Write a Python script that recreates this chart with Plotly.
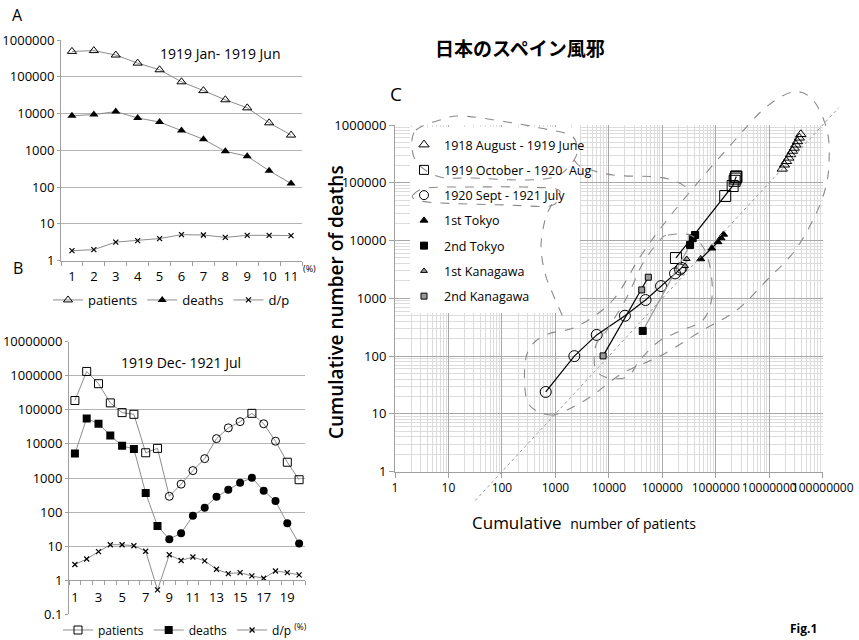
import plotly.graph_objects as go
import math

W, H = 859, 640

# ---------------- data ----------------
# Panel A (1919 Jan - 1919 Jun)
a_month = list(range(1, 12))
a_patients = [490000, 515000, 390000, 235000, 155000, 73000, 42000, 23700, 14300, 5600, 2600]
a_deaths = [8700, 9400, 11300, 7600, 5900, 3450, 2000, 940, 690, 280, 125]
a_dp = [1.87, 2.0, 3.2, 3.5, 4.0, 5.1, 5.0, 4.3, 4.9, 4.9, 4.8]

# Panel B (1919 Dec - 1921 Jul)
b_month = list(range(1, 21))
b_patients = [188000, 1340000, 585000, 160000, 83000, 74000, 5500, 7400, 290, 660,
              1650, 3700, 14300, 29600, 45000, 79000, 39000, 12000, 2900, 890]
b_deaths = [5200, 56000, 39000, 17700, 8800, 7100, 360, 39, 16, 24,
            78, 135, 280, 450, 720, 1020, 420, 210, 47, 12]
b_dp = [2.9, 4.2, 6.9, 11, 11, 10.3, 7.1, 0.52, 5.6, 3.8,
        4.8, 3.7, 2.1, 1.56, 1.67, 1.34, 1.14, 1.87, 1.67, 1.43]
b_pat_sym = ['square-open'] * 8 + ['circle-open'] * 7 + ['square-open'] + ['circle-open'] * 2 + ['square-open'] * 2
b_dea_sym = ['square'] * 8 + ['circle'] * 12

# Panel C (cumulative)
w1_pat = [17500000, 19300000, 21000000, 23200000, 25000000, 27300000, 29400000, 31500000, 33800000, 36500000, 39000000]
w1_dea = [174000, 205000, 236000, 270000, 310000, 355000, 400000, 455000, 520000, 600000, 690000]
w2_pat = [180000, 1500000, 2070000, 2250000, 2330000, 2400000, 2410000, 2420000]
w2_dea = [5000, 59000, 88000, 108000, 118000, 125000, 128000, 128000]
w3_pat = [660, 2260, 5930, 20000, 48600, 94600, 173000, 214000, 229000]
w3_dea = [24, 100, 233, 500, 935, 1630, 2700, 3150, 3370]
t1_pat = [523000, 840000, 1100000, 1250000, 1400000]
t1_dea = [4800, 7360, 9460, 11100, 12760]
t2_pat = [43000, 330000, 370000, 410000]
t2_dea = [273, 8400, 11000, 12500]
k1_pat = [266000, 286000]
k1_dea = [3630, 4800]
k2_pat = [7800, 41200, 54700]
k2_dea = [101, 1400, 2320]

a_yticks = [1, 10, 100, 1000, 10000, 100000, 1000000]
b_yticks = [0.1, 1, 10, 100, 1000, 10000, 100000, 1000000, 10000000]
c_xticks = [10 ** k for k in range(0, 9)]
c_yticks = [10 ** k for k in range(0, 7)]

# ---------------- layout helpers ----------------
FONT = "Open Sans, Noto Sans, sans-serif"
LINEGREY = '#8c8c8c'
GRID = '#b4b4b4'

def px2paper(px, py):
    return px / W, 1 - py / H

def dom_x(p0, p1):
    return [p0 / W, p1 / W]

def dom_y(top, bottom):
    return [1 - bottom / H, 1 - top / H]

def smooth_path(pts, closed=False):
    P = [px2paper(x, y) for x, y in pts]
    n = len(P)
    if closed:
        get = lambda i: P[i % n]
        segs = range(n)
    else:
        get = lambda i: P[min(max(i, 0), n - 1)]
        segs = range(n - 1)
    d = "M %.5f,%.5f" % get(0)
    for i in segs:
        p0, p1, p2, p3 = get(i - 1), get(i), get(i + 1), get(i + 2)
        c1 = (p1[0] + (p2[0] - p0[0]) / 6, p1[1] + (p2[1] - p0[1]) / 6)
        c2 = (p2[0] - (p3[0] - p1[0]) / 6, p2[1] - (p3[1] - p1[1]) / 6)
        d += " C %.5f,%.5f %.5f,%.5f %.5f,%.5f" % (c1 + c2 + p2)
    if closed:
        d += " Z"
    return d

fig = go.Figure()

# ---------------- Panel A ----------------
line_kw = dict(color=LINEGREY, width=1)
xmark = dict(symbol='x-thin', size=5, color='black', line=dict(width=1.2, color='black'))
fig.add_trace(go.Scatter(x=a_month, y=a_patients, mode='lines+markers', name='patients',
                         line=line_kw, marker=dict(symbol='triangle-up-open', size=8, color='black'),
                         xaxis='x', yaxis='y', legend='legend'))
fig.add_trace(go.Scatter(x=a_month, y=a_deaths, mode='lines+markers', name='deaths',
                         line=line_kw, marker=dict(symbol='triangle-up', size=8, color='black'),
                         xaxis='x', yaxis='y', legend='legend'))
fig.add_trace(go.Scatter(x=a_month, y=a_dp, mode='lines+markers', name='d/p',
                         line=line_kw, marker=xmark, xaxis='x', yaxis='y', legend='legend'))

# ---------------- Panel B ----------------
fig.add_trace(go.Scatter(x=b_month, y=b_patients, mode='lines+markers', name='patients',
                         line=line_kw, marker=dict(symbol=b_pat_sym, size=8, color='black'),
                         xaxis='x2', yaxis='y2', legend='legend2'))
fig.add_trace(go.Scatter(x=b_month, y=b_deaths, mode='lines+markers', name='deaths',
                         line=line_kw, marker=dict(symbol=b_dea_sym, size=8, color='black'),
                         xaxis='x2', yaxis='y2', legend='legend2'))
fig.add_trace(go.Scatter(x=b_month, y=b_dp, mode='lines+markers', name='d/p <sup>(%)</sup>',
                         line=line_kw, marker=xmark, xaxis='x2', yaxis='y2', legend='legend2'))

# ---------------- Panel C ----------------
c_series = [
    ('1918 August - 1919 June', w1_pat, w1_dea, 'triangle-up-open', 9, 'black', 'black', 'markers'),
    ('1919 October - 1920  Aug', w2_pat, w2_dea, 'square-open', 11, 'black', 'black', 'lines+markers'),
    ('1920 Sept - 1921 July', w3_pat, w3_dea, 'circle-open', 11, 'black', 'black', 'lines+markers'),
    ('1st Tokyo', t1_pat, t1_dea, 'triangle-up', 7, 'black', 'black', 'lines+markers'),
    ('2nd Tokyo', t2_pat, t2_dea, 'square', 7, 'black', '#999999', 'lines+markers'),
    ('1st Kanagawa', k1_pat, k1_dea, 'triangle-up', 6, '#9a9a9a', '#999999', 'lines+markers'),
    ('2nd Kanagawa', k2_pat, k2_dea, 'square', 6, '#9a9a9a', 'black', 'lines+markers'),
]
def c_marker(sym, sz, fillc):
    if sym.endswith('open'):
        return dict(symbol=sym, size=sz, color='black', line=dict(width=1))
    return dict(symbol=sym, size=sz, color=fillc, line=dict(color='black', width=1))

for name, xs, ys, sym, sz, fillc, lc, mode in c_series:
    fig.add_trace(go.Scatter(x=xs, y=ys, mode=mode, name=name, showlegend=False,
                             line=dict(color=lc, width=1.2), marker=c_marker(sym, sz, fillc),
                             xaxis='x3', yaxis='y3'))
# legend entries for panel C (markers only)
leg_sizes = [9, 9, 9, 7, 7, 6, 6]
for (name, xs, ys, sym, sz, fillc, lc, mode), ls in zip(c_series, leg_sizes):
    fig.add_trace(go.Scatter(x=[None], y=[None], mode='markers', name=name,
                             marker=c_marker(sym, ls, fillc),
                             xaxis='x3', yaxis='y3', legend='legend3', legendgroup=name))

# ---------------- axes ----------------
tickfont = dict(family=FONT, size=13, color='black')
fig.update_layout(
    width=W, height=H, margin=dict(l=0, r=0, t=0, b=0, autoexpand=False),
    paper_bgcolor='white', plot_bgcolor='rgba(0,0,0,0)',
    font=dict(family=FONT, color='black'),
    xaxis=dict(domain=dom_x(61, 302), range=[0.5, 11.5], anchor='y',
               tickvals=a_month, ticktext=[str(m) for m in a_month], ticks='',
               showgrid=False, zeroline=False, showline=True, linecolor='#a0a0a0',
               tickfont=dict(family=FONT, size=13), ticklabelstandoff=4,
               minor=dict(tickvals=[i + 0.5 for i in range(0, 12)], ticks='outside',
                          ticklen=4, tickcolor='#a0a0a0', showgrid=False)),
    yaxis=dict(domain=dom_y(40, 260.7), type='log', range=[0, 6], anchor='x',
               tickvals=a_yticks, ticktext=[str(v) for v in a_yticks],
               showgrid=True, gridcolor=GRID, zeroline=False, showline=True,
               linecolor='#a0a0a0', ticks='outside', ticklen=3, tickcolor='#a0a0a0',
               tickfont=tickfont),
    xaxis2=dict(domain=dom_x(69, 305), range=[0.5, 20.5], anchor='free',
                position=1 - 580.3 / H,
                tickvals=list(range(1, 21, 2)), ticktext=[str(m) for m in range(1, 21, 2)],
                ticks='', showgrid=False, zeroline=False, showline=True, linecolor='#a0a0a0',
                tickfont=dict(family=FONT, size=13), ticklabelstandoff=5,
                minor=dict(tickvals=[i + 0.5 for i in range(0, 21)], ticks='outside',
                           ticklen=4, tickcolor='#a0a0a0', showgrid=False)),
    yaxis2=dict(domain=dom_y(341.7, 614.3), type='log', range=[-1, 7], anchor='x2',
                tickvals=b_yticks, ticktext=['0.1'] + [str(int(v)) for v in b_yticks[1:]],
                showgrid=True, gridcolor=GRID, zeroline=False, showline=True,
                linecolor='#a0a0a0', ticks='outside', ticklen=3, tickcolor='#a0a0a0',
                tickfont=tickfont),
    xaxis3=dict(domain=dom_x(395, 822.7), type='log', range=[0, 8], anchor='y3',
                tickvals=c_xticks, ticktext=[str(v) for v in c_xticks], tickangle=0,
                showgrid=True, gridcolor='#a8a8a8', zeroline=False, showline=True,
                linecolor='#a0a0a0', ticks='outside', ticklen=5, tickcolor='#a0a0a0',
                tickfont=dict(family=FONT, size=12),
                minor=dict(tickvals=[k * 10 ** e for e in range(0, 8) for k in range(2, 10)],
                           showgrid=True, gridcolor='#dcdcdc', ticks='')),
    yaxis3=dict(domain=dom_y(125, 471.7), type='log', range=[0, 6], anchor='x3',
                tickvals=c_yticks, ticktext=[str(v) for v in c_yticks],
                showgrid=True, gridcolor='#a8a8a8', zeroline=False, showline=True,
                linecolor='#a0a0a0', ticks='outside', ticklen=5, tickcolor='#a0a0a0',
                tickfont=dict(family=FONT, size=13),
                minor=dict(tickvals=[k * 10 ** e for e in range(0, 6) for k in range(2, 10)],
                           showgrid=True, gridcolor='#dcdcdc', ticks='')),
    legend=dict(orientation='h', xref='container', yref='container',
                x=48 / W, y=1 - 300 / H, xanchor='left', yanchor='middle',
                bgcolor='rgba(0,0,0,0)', font=dict(family=FONT, size=13)),
    legend2=dict(orientation='h', xref='container', yref='container',
                 x=58 / W, y=1 - 630 / H, xanchor='left', yanchor='middle',
                 bgcolor='rgba(0,0,0,0)', font=dict(family=FONT, size=12)),
    legend3=dict(orientation='v', xref='container', yref='container',
                 x=404 / W, y=1 - 130 / H, xanchor='left', yanchor='top',
                 bgcolor='rgba(0,0,0,0)', font=dict(family=FONT, size=12.5),
                 tracegroupgap=6),
)

# ---------------- shapes ----------------
shapes = []
# white legend box hiding grid of panel C
bx0, by0 = px2paper(410, 313)
bx1, by1 = px2paper(580, 127)
shapes.append(dict(type='rect', xref='paper', yref='paper', layer='above',
                   x0=bx0, x1=bx1, y0=by0, y1=by1,
                   fillcolor='white', line=dict(width=0)))

# 1% reference diagonal (deaths = patients / 100), extending beyond the plot
def c_paper(xv, yv):
    x0, x1 = 395 / W, 822.7 / W
    y0, y1 = 1 - 471.7 / H, 1 - 125 / H
    return (x0 + math.log10(xv) / 8 * (x1 - x0), y0 + math.log10(yv) / 6 * (y1 - y0))
p0 = c_paper(10 ** 1.5, 10 ** -0.5)
p1 = c_paper(10 ** 8.3, 10 ** 6.3)
shapes.append(dict(type='line', xref='paper', yref='paper', x0=p0[0], y0=p0[1], x1=p1[0], y1=p1[1],
                   line=dict(color='#9a9a9a', width=1, dash='dot'), layer='above'))

dash_kw = dict(color='#8a8a8a', width=1.1, dash='dash')
alpha = [(416, 130), (440, 120), (462, 116), (507, 122), (540, 128), (570, 135), (577, 147),
         (574, 160), (557, 176), (527, 180), (473, 178), (440, 177), (418, 164), (412, 147)]
alpha_tail = [(574, 160), (582, 167), (613, 175), (657, 177), (677, 182), (690, 190)]
beta = [(413, 195), (427, 188), (473, 187), (523, 187), (556, 189), (559, 196), (550, 206),
        (507, 205), (440, 203), (417, 200)]
beta_tail = [(552, 204), (545, 220), (541, 247), (545, 273), (552, 292), (563, 317)]
gamma = [(553, 415), (535, 410), (526, 397), (525, 363), (532, 345), (548, 334), (578, 326),
         (613, 300), (640, 257), (667, 220), (700, 180), (735, 140), (765, 108), (793, 92),
         (813, 100), (827, 130), (829, 163), (825, 190), (813, 220), (793, 253), (767, 280),
         (737, 310), (703, 330), (662, 355), (633, 368), (618, 376), (593, 395), (573, 407)]
delta = [(668, 235), (690, 235), (703, 247), (710, 267), (712, 297), (703, 320), (680, 331),
         (658, 342), (640, 360), (627, 377), (605, 377), (595, 367), (596, 345), (607, 330),
         (627, 297), (643, 263), (660, 240)]
for pts, closed in [(alpha, True), (alpha_tail, False), (beta, True), (beta_tail, False),
                    (gamma, True), (delta, True)]:
    shapes.append(dict(type='path', xref='paper', yref='paper', path=smooth_path(pts, closed),
                       line=dash_kw, layer='above'))
fig.update_layout(shapes=shapes)

# ---------------- annotations ----------------
def ann(text, px, py, size, xanchor='center', yanchor='middle', angle=0, family=FONT, weight=400):
    x, y = px2paper(px, py)
    return dict(text=text, x=x, y=y, xref='paper', yref='paper', showarrow=False,
                xanchor=xanchor, yanchor=yanchor, textangle=angle,
                font=dict(family=family, size=size, color='black', weight=weight))

annotations = [
    ann('A', 17, 15, 16),
    ann('B', 18, 268, 16),
    ann('C', 396, 94, 19),
    ann('1919 Jan- 1919 Jun', 220, 54, 14),
    ann('1919 Dec- 1921 Jul', 181, 362, 14),
    ann('(%)', 301, 268, 9, xanchor='left'),
    ann('日本のスペイン風邪', 520, 47, 19, family='Noto Sans CJK JP', weight=600),
    ann('Cumulative number of deaths', 336, 302, 19, angle=-90, weight=600),
    ann('Cumulative  <span style="font-size:14px">number of patients</span>', 584, 522, 17, weight=500),
    ann('Fig.1', 803, 628, 12, weight=700),
]
fig.update_layout(annotations=annotations)

fig.write_html("out.html")
